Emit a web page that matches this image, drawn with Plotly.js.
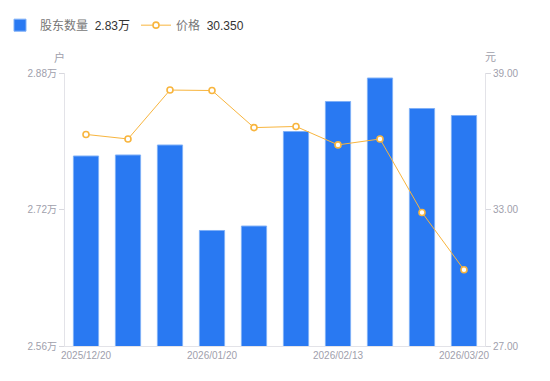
<!DOCTYPE html>
<html><head><meta charset="utf-8">
<script src="https://cdn.plot.ly/plotly-3.0.1.min.js"></script>
<style>html,body{margin:0;padding:0;background:#fff}#c{width:550px;height:381px}</style>
</head><body><div id="c"></div>
<script>
const categories = ['d1','d2','d3','d4','d5','d6','d7','d8','d9','d10'];
const holders = [2.7827, 2.7839, 2.7956, 2.6954, 2.7006, 2.8114, 2.8466, 2.8741, 2.8384, 2.8302];
const price = [36.30, 36.10, 38.25, 38.23, 36.60, 36.65, 35.84, 36.10, 32.87, 30.35];
const xTickCats = ['d1','d4','d7','d10'];
const xTickLabels = ['2025/12/20','2026/01/20','2026/02/13','2026/03/20'];
const leftTicks = [2.56, 2.72, 2.88];
const leftTickLabels = ['2.56万','2.72万','2.88万'];
const rightTicks = [27, 33, 39];
const rightTickLabels = ['27.00','33.00','39.00'];

const FONT = '"Liberation Sans", "Noto Sans CJK SC", Arial, sans-serif';
const traces = [
  {type:'bar', x:categories, y:holders, yaxis:'y', legend:'legend',
   name:'股东数量  <span style="color:#333">2.83万</span>',
   marker:{color:'#2979F2', line:{color:'#7FB0F7', width:1}}},
  {type:'scatter', mode:'lines+markers', x:categories, y:price, yaxis:'y2', legend:'legend2',
   name:'价格  <span style="color:#333">30.350</span>',
   line:{color:'#F8B53E', width:1},
   marker:{size:6, color:'#fff', line:{color:'#F8B53E', width:1.6}}}
];
const legBase = {orientation:'h', xref:'container', yref:'container', y:0.972, xanchor:'left', yanchor:'top',
          font:{size:12, color:'#777'}, bgcolor:'rgba(0,0,0,0)'};
const layout = {
  width:550, height:381,
  margin:{l:65, r:65, t:73, b:35},
  paper_bgcolor:'#fff', plot_bgcolor:'#fff',
  font:{family:FONT, size:10, color:'#A0A0AC'},
  bargap:0.4,
  showlegend:true,
  legend:Object.assign({}, legBase, {x:-7/550}),
  legend2:Object.assign({}, legBase, {x:136/550}),
  xaxis:{type:'category', range:[-0.5, 9.5], showgrid:false, zeroline:false,
         showline:true, linecolor:'#E3E3E8', linewidth:1,
         tickmode:'array', tickvals:xTickCats, ticktext:xTickLabels, ticks:'',
         tickfont:{size:10, color:'#A0A0AC'}},
  yaxis:{range:[2.56, 2.88], showgrid:false, zeroline:false,
         showline:true, linecolor:'#E3E3E8', linewidth:1,
         tickmode:'array', tickvals:leftTicks, ticktext:leftTickLabels,
         ticks:'outside', ticklen:5, tickcolor:'#D8D8DE',
         tickfont:{size:10, color:'#A0A0AC'}},
  yaxis2:{range:[27, 39], overlaying:'y', side:'right', showgrid:false, zeroline:false,
          showline:true, linecolor:'#E3E3E8', linewidth:1,
          tickmode:'array', tickvals:rightTicks, ticktext:rightTickLabels,
          ticks:'outside', ticklen:5, tickcolor:'#D8D8DE',
          tickfont:{size:10, color:'#A0A0AC'}},
  annotations:[
    {text:'户', xref:'paper', yref:'paper', x:0, y:1, xanchor:'center', yanchor:'middle', xshift:-6, yshift:16, showarrow:false,
     font:{size:11, color:'#A0A0AC'}},
    {text:'元', xref:'paper', yref:'paper', x:1, y:1, xanchor:'center', yanchor:'middle', xshift:5, yshift:16, showarrow:false,
     font:{size:11, color:'#A0A0AC'}}
  ]
};
Plotly.newPlot('c', traces, layout, {displayModeBar:false, staticPlot:true});
</script></body></html>
